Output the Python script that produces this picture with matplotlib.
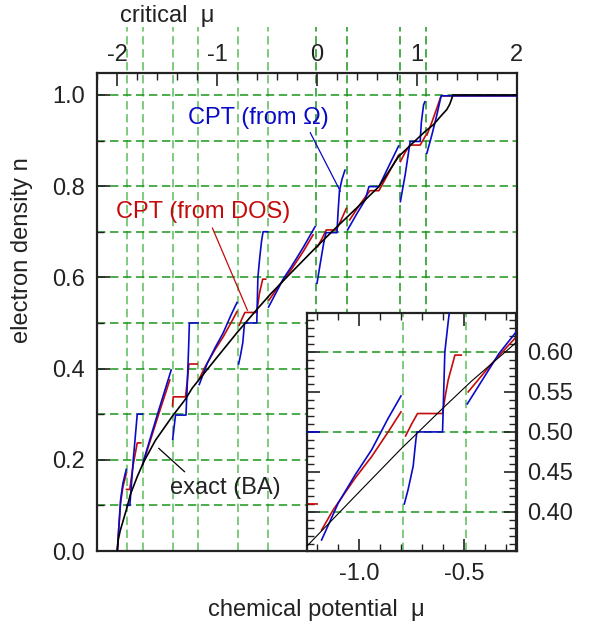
import numpy as np
import matplotlib
matplotlib.use('Agg')
import matplotlib.pyplot as plt
from matplotlib.ticker import MultipleLocator, FormatStrFormatter

plt.rcParams['font.family'] = ['Liberation Sans', 'DejaVu Sans']
plt.rcParams['axes.unicode_minus'] = False

# critical chemical potentials (green vertical lines)
crit_mu = [-1.907, -1.747, -1.447, -1.187, -0.79, -0.49, -0.007, 0.297, 0.833, 1.087]
inset_crit_mu = [-0.79, -0.49]
grid_n = [0.1, 0.2, 0.3, 0.4, 0.5, 0.6, 0.7, 0.8, 0.9, 1.0]
inset_grid_n = [0.4, 0.5, 0.6]

# exact Bethe ansatz curve
exact_mu = [-2.0, -1.99, -1.97, -1.95, -1.91, -1.867, -1.8, -1.734, -1.617, -1.45, -1.317,
            -1.25, -1.0, -0.8, -0.6, -0.467, -0.26, 0.0, 0.2, 0.483, 0.62, 0.817, 1.0,
            1.083, 1.167, 1.25, 1.30, 1.33, 1.35, 1.36, 2.0]
exact_n = [0.0, 0.025, 0.045, 0.06, 0.09, 0.125, 0.163, 0.196, 0.243, 0.295, 0.333,
           0.357, 0.425, 0.479, 0.53, 0.563, 0.61, 0.668, 0.711, 0.77, 0.799, 0.865, 0.903,
           0.92, 0.935, 0.956, 0.968, 0.98, 0.992, 1.0, 1.0]

# CPT from grand potential (blue), one list per interval between critical mu
omega_mu = [
    [-2.0, -1.984, -1.967, -1.944, -1.91],
    [-1.907, -1.874, -1.84, -1.80, -1.75],
    [-1.745, -1.734, -1.6, -1.46],
    [-1.445, -1.417, -1.312, -1.30, -1.285, -1.278, -1.19],
    [-1.179, -1.10, -1.02, -0.941, -0.862, -0.801],
    [-0.785, -0.767, -0.743, -0.73, -0.725, -0.603, -0.592, -0.575, -0.555, -0.54, -0.495],
    [-0.485, -0.334, -0.258, -0.134, -0.02],
    [0.0, 0.033, 0.067, 0.09, 0.2, 0.21, 0.225, 0.25, 0.28],
    [0.306, 0.40, 0.483, 0.52, 0.62, 0.717, 0.817],
    [0.835, 0.883, 0.933, 1.033, 1.045, 1.067, 1.08],
    [1.10, 1.15, 1.20, 1.243, 2.0],
]
omega_n = [
    [0.0, 0.053, 0.112, 0.148, 0.179],
    [0.1, 0.1, 0.2, 0.3, 0.3],
    [0.19, 0.2, 0.298, 0.397],
    [0.245, 0.298, 0.298, 0.36, 0.45, 0.5, 0.5],
    [0.365, 0.411, 0.446, 0.4775, 0.517, 0.545],
    [0.41, 0.428, 0.457, 0.49, 0.5, 0.5, 0.60, 0.64, 0.68, 0.70, 0.70],
    [0.535, 0.598, 0.623, 0.667, 0.711],
    [0.587, 0.631, 0.675, 0.698, 0.698, 0.74, 0.79, 0.815, 0.835],
    [0.704, 0.74, 0.77, 0.799, 0.799, 0.843, 0.888],
    [0.766, 0.825, 0.898, 0.898, 0.94, 0.978, 0.985],
    [0.872, 0.912, 0.956, 0.998, 0.998],
]

# CPT from density of states (red)
dos_mu = [
    [-2.0, -1.985, -1.967, -1.944, -1.91],
    [-1.907, -1.875, -1.84, -1.80, -1.765],
    [-1.745, -1.6, -1.474],
    [-1.447, -1.44, -1.317, -1.30, -1.283, -1.20],
    [-1.179, -1.124, -1.02, -0.941, -0.862, -0.801],
    [-0.779, -0.75, -0.722, -0.603, -0.59, -0.576, -0.544, -0.514],
    [-0.481, -0.37, -0.258, -0.134, -0.04],
    [0.006, 0.05, 0.093, 0.193, 0.24, 0.293],
    [0.327, 0.43, 0.53, 0.62, 0.72, 0.817],
    [0.835, 0.885, 0.933, 1.033, 1.06, 1.085],
    [1.10, 1.15, 1.20, 1.243, 2.0],
]
dos_n = [
    [0.0, 0.05, 0.105, 0.14, 0.17],
    [0.135, 0.135, 0.19, 0.237, 0.237],
    [0.19, 0.29, 0.375],
    [0.318, 0.338, 0.338, 0.37, 0.41, 0.41],
    [0.3775, 0.4025, 0.442, 0.469, 0.50, 0.525],
    [0.495, 0.51, 0.523, 0.523, 0.545, 0.565, 0.596, 0.596],
    [0.55, 0.585, 0.617, 0.658, 0.693],
    [0.667, 0.685, 0.704, 0.704, 0.725, 0.751],
    [0.726, 0.76, 0.79, 0.79, 0.83, 0.868],
    [0.854, 0.875, 0.89, 0.89, 0.9, 0.91],
    [0.912, 0.94, 0.971, 0.998, 0.998],
]

blue = '#0a0ac8'
red = '#c40a0a'
light_green = '#5cbd5c'
dark_green = '#1a961a'
dash = (0, (5.5, 3))
fs = 17

fig = plt.figure(figsize=(5.89, 6.29), dpi=100)
ax = fig.add_axes([0.1652, 0.124, 0.7121, 0.7599])

for c in crit_mu:
    col = light_green if c < -0.1 else dark_green
    ax.plot([c, c], [0, 1.15], ls=dash, color=col, lw=1.1, clip_on=False, zorder=1)
for g in grid_n:
    ax.plot([-2.2, 2.0], [g, g], ls=dash, color=dark_green, lw=1.1, zorder=1)

for m, v in zip(dos_mu, dos_n):
    ax.plot(m, v, color=red, lw=1.2, zorder=2)
for m, v in zip(omega_mu, omega_n):
    ax.plot(m, v, color=blue, lw=1.2, zorder=3)
ax.plot(exact_mu, exact_n, color='black', lw=1.2, zorder=4)

# labels with pointer lines
ax.text(-0.587, 0.95, 'CPT (from \u03a9)', color=blue, fontsize=fs, ha='center', va='center')
ax.plot([-0.067, 0.233], [0.917, 0.789], color=blue, lw=0.9)
ax.text(-1.137, 0.743, 'CPT (from DOS)', color=red, fontsize=fs, ha='center', va='center')
ax.plot([-1.047, -0.697], [0.708, 0.528], color=red, lw=0.9)
ax.text(-0.917, 0.138, 'exact (BA)', color='#222222', fontsize=fs, ha='center', va='center')
ax.plot([-1.584, -1.327], [0.225, 0.174], color='black', lw=0.9)

ax.set_xlim(-2.2, 2.0)
ax.set_ylim(0, 1.048)
ax.xaxis.tick_top()
ax.set_xticks([-2, -1, 0, 1, 2])
ax.xaxis.set_minor_locator(MultipleLocator(0.2))
ax.set_yticks([0.0, 0.2, 0.4, 0.6, 0.8, 1.0])
ax.yaxis.set_minor_locator(MultipleLocator(0.1))
ax.yaxis.set_major_formatter(FormatStrFormatter('%.1f'))
ax.tick_params(axis='x', which='both', direction='in', top=True, bottom=False,
               labeltop=True, labelbottom=False, labelsize=fs, pad=5, colors='#222222')
ax.tick_params(axis='y', which='both', direction='in', left=True, right=False,
               labelsize=fs, pad=9, colors='#222222')
ax.tick_params(which='major', length=9, width=1.2)
ax.tick_params(which='minor', length=5, width=1.0)
for s in ax.spines.values():
    s.set_linewidth(1.6)
    s.set_color('#222222')

# inset zoom
ins = fig.add_axes([0.5207, 0.1245, 0.3554, 0.3784])
ins.set_facecolor('white')
for c in inset_crit_mu:
    ins.axvline(c, ls=dash, color=light_green, lw=1.1, zorder=1)
for g in inset_grid_n:
    ins.axhline(g, ls=dash, color=dark_green, lw=1.1, zorder=1)
for m, v in zip(dos_mu, dos_n):
    ins.plot(m, v, color=red, lw=1.2, zorder=2)
for m, v in zip(omega_mu, omega_n):
    ins.plot(m, v, color=blue, lw=1.2, zorder=3)
ins.plot(exact_mu, exact_n, color='black', lw=0.8, zorder=4)
ins.set_xlim(-1.25, -0.253)
ins.set_ylim(0.3516, 0.649)
ins.set_xticks([-1.0, -0.5])
ins.xaxis.set_minor_locator(MultipleLocator(0.1))
ins.xaxis.set_major_formatter(FormatStrFormatter('%.1f'))
ins.set_yticks([0.40, 0.45, 0.50, 0.55, 0.60])
ins.yaxis.set_minor_locator(MultipleLocator(0.01))
ins.yaxis.set_major_formatter(FormatStrFormatter('%.2f'))
ins.tick_params(which='both', direction='in', top=True, bottom=True, left=True, right=True,
                labelleft=False, labelright=True, labelsize=fs, colors='#222222')
ins.tick_params(axis='y', pad=8)
ins.tick_params(axis='x', pad=9)
ins.tick_params(which='major', length=9, width=1.2)
ins.tick_params(which='minor', length=5, width=1.0)
for s in ins.spines.values():
    s.set_linewidth(1.6)
    s.set_color('#222222')

fig.text(120 / 589, 1 - 22 / 629, 'critical  \u03bc', fontsize=fs, color='#222222',
         ha='left', va='baseline')
fig.text(316.7 / 589, 1 - 610 / 629, 'chemical potential  \u03bc', fontsize=fs, color='#222222',
         ha='center', va='center')
fig.text(22 / 589, 1 - 250 / 629, 'electron density n', fontsize=fs, color='#222222',
         rotation=90, ha='center', va='center')

fig.savefig('out.png', dpi=100)
